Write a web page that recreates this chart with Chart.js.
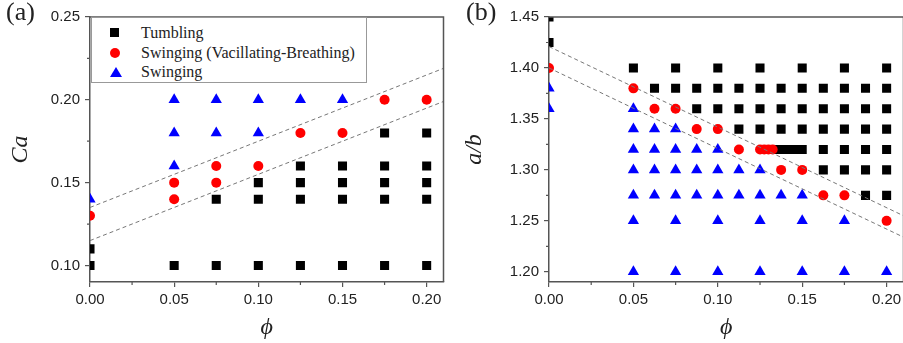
<!DOCTYPE html>
<html>
<head>
<meta charset="utf-8">
<script src="https://cdn.jsdelivr.net/npm/chart.js@4/dist/chart.umd.min.js"></script>
<style>
  html, body { margin: 0; padding: 0; background: #fff; overflow: hidden; }
  #wrap { position: relative; width: 903px; height: 343px; overflow: hidden; }
  canvas { position: absolute; top: 0; }
  .panel { position: absolute; top: -3px; font: 26px 'Liberation Serif', serif; color: #222; }
  #legend { position: absolute; left: 91px; top: 17px; width: 274px; height: 64px;
            border: 1px solid #999; background: #fff; font: 16px 'Liberation Serif', serif; color: #222; }
  #legend div { position: absolute; left: 49px; height: 20px; line-height: 20px; white-space: nowrap; }
  #legend span { position: absolute; left: -31px; }
  .sq { top: 5px; width: 9px; height: 9px; background: #000; }
  .ci { top: 5px; width: 10px; height: 10px; border-radius: 50%; background: #f00; }
  .tr { top: 5px; width: 0; height: 0; border-left: 6px solid transparent; border-right: 6px solid transparent;
        border-bottom: 10px solid #00f; }
</style>
</head>
<body>
<div id="wrap">
  <canvas id="chartA" width="450" height="343" style="left:0"></canvas>
  <canvas id="chartB" width="460" height="343" style="left:450px"></canvas>
  <div class="panel" style="left:6px">(a)</div>
  <div class="panel" style="left:466px">(b)</div>
  <div id="legend">
    <div style="top:5px"><span class="sq"></span>Tumbling</div>
    <div style="top:25px"><span class="ci"></span>Swinging (Vacillating-Breathing)</div>
    <div style="top:44px"><span class="tr"></span>Swinging</div>
  </div>
</div>
<script>
// ---- panel (a): Ca vs phi ----
const aTumbX = [0, 0, 0.05, 0.075, 0.075, 0.1, 0.1, 0.1, 0.125, 0.125, 0.125, 0.125, 0.15, 0.15, 0.15, 0.15,
                0.175, 0.175, 0.175, 0.175, 0.175, 0.2, 0.2, 0.2, 0.2, 0.2]
const aTumbY = [0.10, 0.11, 0.10, 0.10, 0.14, 0.10, 0.14, 0.15, 0.10, 0.14, 0.15, 0.16, 0.10, 0.14, 0.15, 0.16,
                0.10, 0.14, 0.15, 0.16, 0.18, 0.10, 0.14, 0.15, 0.16, 0.18]
const aVbX = [0, 0.05, 0.05, 0.075, 0.075, 0.1, 0.125, 0.15, 0.175, 0.2]
const aVbY = [0.13, 0.14, 0.15, 0.15, 0.16, 0.16, 0.18, 0.18, 0.20, 0.20]
const aSwX = [0, 0.05, 0.05, 0.05, 0.075, 0.075, 0.1, 0.1, 0.125, 0.15]
const aSwY = [0.14, 0.16, 0.18, 0.20, 0.18, 0.20, 0.18, 0.20, 0.20, 0.20]
const aUpperX = [0, 0.21], aUpperY = [0.135, 0.219]
const aLowerX = [0, 0.21], aLowerY = [0.115, 0.199]

// ---- panel (b): a/b vs phi ----
const bTumbX = [0, 0,
  0.05, 0.075, 0.1, 0.125, 0.15, 0.175, 0.2,
  0.0625, 0.075, 0.0875, 0.1, 0.1125, 0.125, 0.1375, 0.15, 0.1625, 0.175, 0.1875, 0.2,
  0.0875, 0.1, 0.1125, 0.125, 0.1375, 0.15, 0.1625, 0.175, 0.1875, 0.2,
  0.1125, 0.125, 0.1375, 0.15, 0.1625, 0.175, 0.1875, 0.2,
  0.135, 0.1375, 0.14, 0.1425, 0.145, 0.1475, 0.15, 0.1625, 0.175, 0.1875, 0.2,
  0.1625, 0.175, 0.1875, 0.2,
  0.1875, 0.2]
const bTumbY = [1.45, 1.425,
  1.40, 1.40, 1.40, 1.40, 1.40, 1.40, 1.40,
  1.38, 1.38, 1.38, 1.38, 1.38, 1.38, 1.38, 1.38, 1.38, 1.38, 1.38, 1.38,
  1.36, 1.36, 1.36, 1.36, 1.36, 1.36, 1.36, 1.36, 1.36, 1.36,
  1.34, 1.34, 1.34, 1.34, 1.34, 1.34, 1.34, 1.34,
  1.32, 1.32, 1.32, 1.32, 1.32, 1.32, 1.32, 1.32, 1.32, 1.32, 1.32,
  1.30, 1.30, 1.30, 1.30,
  1.275, 1.275]
const bVbX = [0, 0.05, 0.0625, 0.075, 0.0875, 0.1, 0.1125, 0.125, 0.1275, 0.13, 0.1325, 0.1375, 0.15, 0.1625, 0.175, 0.2]
const bVbY = [1.40, 1.38, 1.36, 1.36, 1.34, 1.34, 1.32, 1.32, 1.32, 1.32, 1.32, 1.30, 1.30, 1.275, 1.275, 1.25]
const bSwX = [0, 0,
  0.05,
  0.05, 0.0625, 0.075,
  0.05, 0.0625, 0.075, 0.0875, 0.1,
  0.05, 0.0625, 0.075, 0.0875, 0.1, 0.1125, 0.125,
  0.05, 0.0625, 0.075, 0.0875, 0.1, 0.1125, 0.125, 0.1375, 0.15,
  0.05, 0.075, 0.1, 0.125, 0.15, 0.175,
  0.05, 0.075, 0.1, 0.125, 0.15, 0.175, 0.2]
const bSwY = [1.38, 1.36,
  1.36,
  1.34, 1.34, 1.34,
  1.32, 1.32, 1.32, 1.32, 1.32,
  1.30, 1.30, 1.30, 1.30, 1.30, 1.30, 1.30,
  1.275, 1.275, 1.275, 1.275, 1.275, 1.275, 1.275, 1.275, 1.275,
  1.25, 1.25, 1.25, 1.25, 1.25, 1.25,
  1.20, 1.20, 1.20, 1.20, 1.20, 1.20, 1.20]
const bUpperX = [0, 0.21], bUpperY = [1.421, 1.255]
const bLowerX = [0, 0.21], bLowerY = [1.40, 1.234]

// ---- ticks ----
const phiTicks = [0, 0.05, 0.10, 0.15, 0.20]
const phiMinor = [0.025, 0.075, 0.125, 0.175]
const caTicks = [0.10, 0.15, 0.20, 0.25]
const caMinor = [0.125, 0.175, 0.225]
const abTicks = [1.20, 1.25, 1.30, 1.35, 1.40, 1.45]
const abMinor = [1.225, 1.275, 1.325, 1.375, 1.425]

const axisColor = '#555'
const sansFont = "'Liberation Sans', Arial, sans-serif"
const serifFont = "'Liberation Serif', 'Times New Roman', serif"

function pts(xs, ys) {
  return xs.map((x, i) => ({ x: x, y: ys[i] }))
}

/* minor ticks plus the top/right frame of the plot box */
const frameAndMinor = {
  id: 'frameAndMinor',
  afterDraw(chart, args, opts) {
    const ctx = chart.ctx
    const area = chart.chartArea
    const sx = chart.scales.x, sy = chart.scales.y
    ctx.save()
    ctx.strokeStyle = axisColor
    ctx.lineWidth = 1.2
    ctx.beginPath()
    opts.x.forEach(v => {
      let px = sx.getPixelForValue(v)
      ctx.moveTo(px, area.bottom)
      ctx.lineTo(px, area.bottom + 3)
    })
    opts.y.forEach(v => {
      let py = sy.getPixelForValue(v)
      ctx.moveTo(area.left, py)
      ctx.lineTo(area.left - 3, py)
    })
    ctx.stroke()
    ctx.lineWidth = 1.5
    ctx.beginPath()
    ctx.moveTo(area.left, area.top)
    ctx.lineTo(area.right, area.top)
    ctx.lineTo(area.right, area.bottom)
    ctx.stroke()
    ctx.restore()
  }
}

function dashed(xs, ys) {
  return { data: pts(xs, ys), showLine: true, pointRadius: 0, borderColor: '#777', borderWidth: 1,
           borderDash: [4, 3], order: 0, clip: 0 }
}

function makeChart(id, o) {
  return new Chart(document.getElementById(id), {
    type: 'scatter',
    data: {
      datasets: [
        dashed(o.upX, o.upY),
        dashed(o.loX, o.loY),
        { data: pts(o.vbX, o.vbY), pointStyle: 'circle', pointRadius: 5, backgroundColor: '#ff0000',
          borderWidth: 0, order: 1, clip: 0 },
        { data: pts(o.swX, o.swY), pointStyle: 'triangle', pointRadius: 6.5, backgroundColor: '#0000ff',
          borderWidth: 0, order: 2, clip: 0 },
        { data: pts(o.tuX, o.tuY), pointStyle: 'rect', pointRadius: 6.4, backgroundColor: '#000',
          borderWidth: 0, order: 3, clip: 0 },
      ],
    },
    options: {
      responsive: false,
      animation: false,
      devicePixelRatio: 1,
      layout: { padding: { top: 17, right: o.padRight, left: 0, bottom: 0 } },
      plugins: {
        legend: { display: false },
        tooltip: { enabled: false },
        frameAndMinor: { x: phiMinor, y: o.yMinor },
      },
      scales: {
        x: {
          type: 'linear', min: 0, max: 0.21,
          afterBuildTicks: s => { s.ticks = phiTicks.map(v => ({ value: v })) },
          afterFit: s => { s.height = 61 },
          border: { color: axisColor, width: 1.5 },
          grid: { drawOnChartArea: false, tickLength: 5, color: axisColor, lineWidth: 1.2 },
          ticks: { padding: 4, color: '#222', font: { family: sansFont, size: 15 },
                   callback: v => v.toFixed(2) },
          title: { display: true, text: 'ϕ', color: '#222', padding: { top: 0, bottom: 1 },
                   font: { family: serifFont, size: 24, style: 'italic' } },
        },
        y: {
          type: 'linear', min: o.yMin, max: o.yMax,
          afterBuildTicks: s => { s.ticks = o.yTicks.map(v => ({ value: v })) },
          afterFit: s => { s.width = o.yWidth },
          border: { color: axisColor, width: 1.5 },
          grid: { drawOnChartArea: false, tickLength: 5, color: axisColor, lineWidth: 1.2 },
          ticks: { padding: 5, color: '#222', font: { family: sansFont, size: 15 },
                   callback: v => v.toFixed(2) },
          title: { display: true, text: o.yTitle, color: '#222', padding: { top: o.titlePad, bottom: 0 },
                   font: { family: serifFont, size: 24, style: 'italic' } },
        },
      },
    },
    plugins: [frameAndMinor],
  })
}

makeChart('chartA', {
  tuX: aTumbX, tuY: aTumbY, vbX: aVbX, vbY: aVbY, swX: aSwX, swY: aSwY,
  upX: aUpperX, upY: aUpperY, loX: aLowerX, loY: aLowerY,
  yMin: 0.09, yMax: 0.25, yTicks: caTicks, yMinor: caMinor, yTitle: 'Ca',
  yWidth: 90, titlePad: 6, padRight: 4,
})

makeChart('chartB', {
  tuX: bTumbX, tuY: bTumbY, vbX: bVbX, vbY: bVbY, swX: bSwX, swY: bSwY,
  upX: bUpperX, upY: bUpperY, loX: bLowerX, loY: bLowerY,
  yMin: 1.19, yMax: 1.45, yTicks: abTicks, yMinor: abMinor, yTitle: 'a/b',
  yWidth: 99, titlePad: 10, padRight: 6,
})
</script>
</body>
</html>
